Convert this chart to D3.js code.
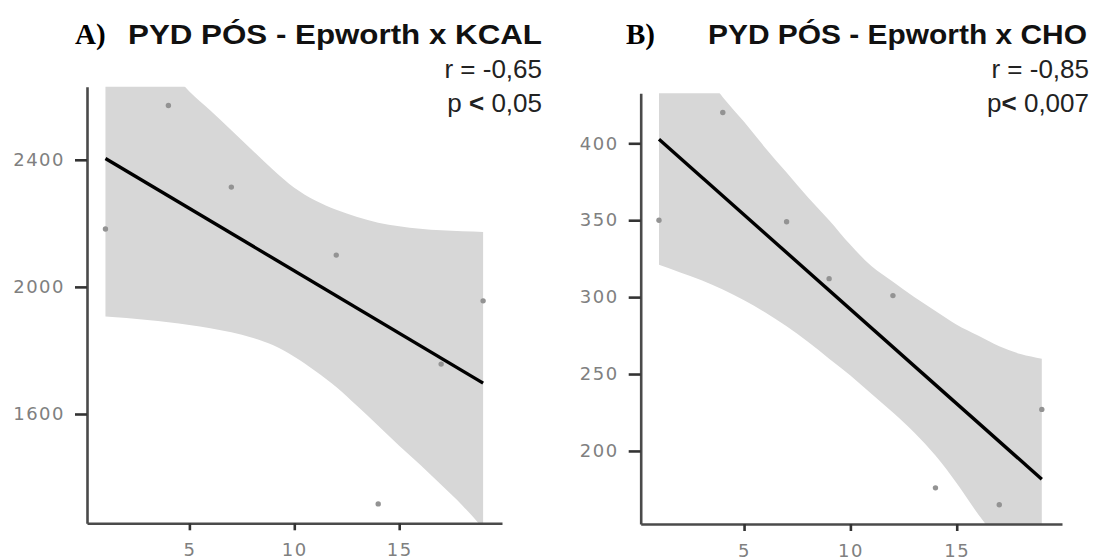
<!DOCTYPE html>
<html>
<head>
<meta charset="utf-8">
<script src="https://cdn.jsdelivr.net/npm/d3@7"></script>
<style>
  body { margin: 0; background: #fff; }
  svg { display: block; }
</style>
</head>
<body>
<svg width="1104" height="560"></svg>
<script>
// data
var epworthA = [1, 4, 7, 12, 14, 17, 19];
var kcal = [2182, 2571, 2314, 2100, 1317, 1757, 1956];

var epworthB = [1, 4, 7, 9, 12, 14, 17, 19];
var cho = [350, 420, 349, 312, 301, 176, 165, 227];

// confidence band, read at each x
var bandX = [1, 2, 3, 4, 5, 6, 7, 8, 9, 10, 11, 12, 13, 14, 15, 16, 17, 18, 19];
var kcalLower = [1907, 1902, 1896, 1889, 1880, 1870, 1857, 1840, 1816, 1780, 1735, 1685, 1625, 1563, 1500, 1440, 1377, 1313, 1240];
var kcalUpper = [2905, 2835, 2765, 2690, 2615, 2555, 2493, 2430, 2368, 2312, 2272, 2243, 2220, 2202, 2191, 2183, 2178, 2175, 2173];
var choLower = [321, 316, 311, 305, 298, 290, 281, 271, 260, 249, 237, 225, 212, 197, 179, 159, 141, 122, 103];
var choUpper = [484, 466, 448, 430, 414, 397, 381, 365, 350, 334, 320, 310, 300, 291, 282, 275, 268, 263, 260];

var xTicks = [5, 10, 15];
var kcalTicks = [1600, 2000, 2400];
var choTicks = [200, 250, 300, 350, 400];

var svg = d3.select('svg');

function fit(xs, ys) {
  var mx = d3.mean(xs), my = d3.mean(ys);
  var sxy = d3.sum(xs, function(x, i) { return (x - mx) * (ys[i] - my); });
  var sxx = d3.sum(xs, function(x) { return (x - mx) * (x - mx); });
  var b = sxy / sxx;
  return function(x) { return my + b * (x - mx); };
}

function panel(p) {
  var x = d3.scaleLinear().domain(p.xDomain).range(p.xRange);
  var y = d3.scaleLinear().domain(p.yDomain).range(p.yRange);
  var g = svg.append('g');

  g.append('clipPath').attr('id', p.id)
    .append('rect')
    .attr('x', p.xRange[0]).attr('y', p.yRange[1])
    .attr('width', p.xRange[1] - p.xRange[0])
    .attr('height', p.yRange[0] - p.yRange[1]);

  var band = bandX.map(function(d, i) { return [d, p.lower[i], p.upper[i]]; });
  g.append('path')
    .datum(band)
    .attr('clip-path', 'url(#' + p.id + ')')
    .attr('fill', '#d7d7d7')
    .attr('d', d3.area()
      .curve(d3.curveMonotoneX)
      .x(function(d) { return x(d[0]); })
      .y0(function(d) { return y(d[1]); })
      .y1(function(d) { return y(d[2]); }));

  g.selectAll('circle')
    .data(p.xs)
    .enter()
    .append('circle')
    .attr('cx', function(d) { return x(d); })
    .attr('cy', function(d, i) { return y(p.ys[i]); })
    .attr('r', 2.7)
    .attr('fill', '#939393');

  var f = fit(p.xs, p.ys);
  var ext = d3.extent(p.xs);
  g.append('line')
    .attr('x1', x(ext[0])).attr('y1', y(f(ext[0])))
    .attr('x2', x(ext[1])).attr('y2', y(f(ext[1])))
    .attr('stroke', '#000')
    .attr('stroke-width', 3.4);

  var xAxis = g.append('g')
    .attr('transform', 'translate(0,' + p.yRange[0] + ')')
    .call(d3.axisBottom(x).tickValues(xTicks).tickSize(7).tickSizeOuter(0).tickPadding(13));
  var yAxis = g.append('g')
    .attr('transform', 'translate(' + p.xRange[0] + ',0)')
    .call(d3.axisLeft(y).tickValues(p.yTicks).tickFormat(d3.format('d'))
      .tickSize(12).tickSizeOuter(0).tickPadding(10));

  [xAxis, yAxis].forEach(function(a) {
    a.select('.domain').attr('stroke', '#4a4a4a').attr('stroke-width', 2.6);
    a.selectAll('.tick line').attr('stroke', '#333').attr('stroke-width', 2.6);
    a.selectAll('.tick text')
      .attr('fill', '#808080')
      .style('font-family', 'DejaVu Sans')
      .style('font-size', '18px')
      .style('letter-spacing', '1.5px');
  });

  g.append('text')
    .attr('x', p.letterX).attr('y', 44)
    .style('font-family', 'Liberation Serif')
    .style('font-weight', 'bold')
    .style('font-size', '29px')
    .text(p.letter);

  g.append('text')
    .attr('x', p.titleX).attr('y', 44)
    .attr('textLength', p.titleW)
    .attr('lengthAdjust', 'spacingAndGlyphs')
    .style('font-family', 'Liberation Sans')
    .style('font-weight', 'bold')
    .style('font-size', '28px')
    .attr('fill', '#111')
    .text(p.title);

  g.append('text')
    .attr('x', p.textRight).attr('y', 78)
    .attr('text-anchor', 'end')
    .style('font-family', 'Liberation Sans')
    .style('font-size', '26px')
    .attr('fill', '#222')
    .text(p.r);

  var pt = g.append('text')
    .attr('x', p.textRight).attr('y', 112)
    .attr('text-anchor', 'end')
    .style('font-family', 'Liberation Sans')
    .style('font-size', '26px')
    .attr('fill', '#222');
  pt.append('tspan').text(p.pLabel[0]);
  pt.append('tspan').style('font-weight', 'bold').text(p.pLabel[1]);
  pt.append('tspan').text(p.pLabel[2]);
}

panel({
  id: 'clipA', xs: epworthA, ys: kcal, lower: kcalLower, upper: kcalUpper,
  xDomain: [0.12, 19.9], xRange: [87, 502],
  yDomain: [1256, 2630], yRange: [523.3, 86.7],
  yTicks: kcalTicks,
  letter: 'A)', letterX: 75, title: 'PYD PÓS - Epworth x KCAL', titleX: 128, titleW: 414,
  textRight: 542, r: 'r = -0,65', pLabel: ['p ', '<', ' 0,05']
});

panel({
  id: 'clipB', xs: epworthB, ys: cho, lower: choLower, upper: choUpper,
  xDomain: [0.14, 19.95], xRange: [640.7, 1062],
  yDomain: [152.5, 432.5], yRange: [524, 93.3],
  yTicks: choTicks,
  letter: 'B)', letterX: 626, title: 'PYD PÓS - Epworth x CHO', titleX: 708, titleW: 379,
  textRight: 1089, r: 'r = -0,85', pLabel: ['p', '<', '  0,007']
});
</script>
</body>
</html>
